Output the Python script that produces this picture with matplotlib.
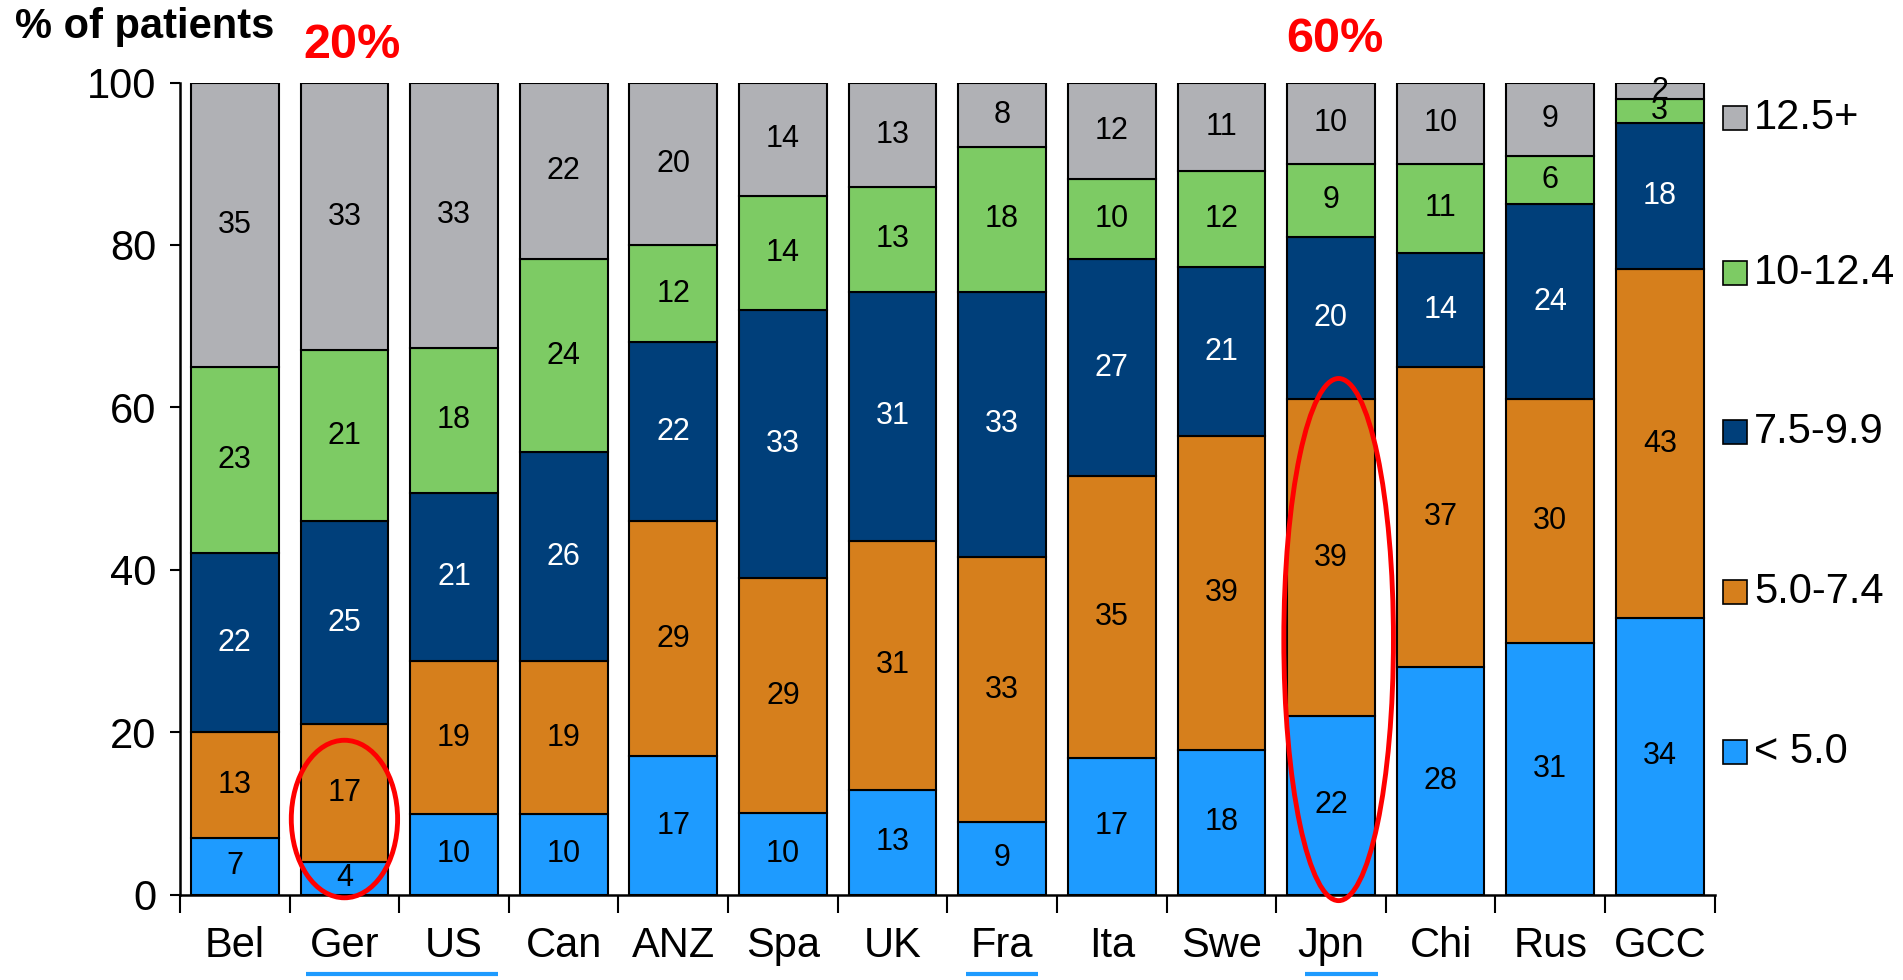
import numpy as np
import matplotlib.pyplot as plt
from matplotlib.patches import Ellipse, Rectangle

plt.rcParams['font.family'] = ['Liberation Sans', 'DejaVu Sans']

# ---- data ----
countries = ["Bel", "Ger", "US", "Can", "ANZ", "Spa", "UK", "Fra",
             "Ita", "Swe", "Jpn", "Chi", "Rus", "GCC"]
lt5 = [7, 4, 10, 10, 17, 10, 13, 9, 17, 18, 22, 28, 31, 34]
r5_74 = [13, 17, 19, 19, 29, 29, 31, 33, 35, 39, 39, 37, 30, 43]
r75_99 = [22, 25, 21, 26, 22, 33, 31, 33, 27, 21, 20, 14, 24, 18]
r10_124 = [23, 21, 18, 24, 12, 14, 13, 18, 10, 12, 9, 11, 6, 3]
r125 = [35, 33, 33, 22, 20, 14, 13, 8, 12, 11, 10, 10, 9, 2]

series_names = ["< 5.0", "5.0-7.4", "7.5-9.9", "10-12.4", "12.5+"]
series_vals = [lt5, r5_74, r75_99, r10_124, r125]
colors = ["#1E9BFF", "#D67F1C", "#003F7A", "#7DCB64", "#B0B1B5"]
text_colors = ["black", "black", "white", "black", "black"]

vals = np.array(series_vals, dtype=float)
heights = vals / vals.sum(axis=0) * 100  # stack to 100%

# ---- figure ----
fig = plt.figure(figsize=(19.03, 9.8), dpi=100)
ax = fig.add_axes([0.0946, 0.0872, 0.8064, 0.8286])

x = np.arange(len(countries))
bottom = np.zeros(len(countries))
for k in range(len(series_names)):
    ax.bar(x, heights[k], 0.8, bottom=bottom, color=colors[k],
           edgecolor="black", linewidth=1.5, zorder=2)
    for i in range(len(countries)):
        ax.text(x[i], bottom[i] + heights[k][i] / 2, str(int(vals[k][i])),
                ha="center", va="center", fontsize=22,
                color=text_colors[k], zorder=3)
    bottom += heights[k]

ax.set_xlim(-0.5, len(countries) - 0.5)
ax.set_ylim(0, 100)
ax.set_yticks([0, 20, 40, 60, 80, 100])
ax.tick_params(axis="y", labelsize=30, length=7, width=1.5, pad=10)
ax.set_xticks(x)
ax.set_xticklabels(countries, fontsize=30)
ax.set_xticks(np.arange(len(countries) + 1) - 0.5, minor=True)
ax.tick_params(axis="x", which="major", length=0, pad=23)
ax.tick_params(axis="x", which="minor", length=13, width=1.5)
for s in ["top", "right"]:
    ax.spines[s].set_visible(False)
for s in ["left", "bottom"]:
    ax.spines[s].set_linewidth(1.8)

# red ellipses
ax.add_patch(Ellipse((1, 9.3), 0.97, 19.4, fill=False, edgecolor="red",
                     linewidth=3.5, clip_on=False, zorder=4))
ax.add_patch(Ellipse((10.07, 31.4), 1.0, 64.3, fill=False, edgecolor="red",
                     linewidth=3.5, clip_on=False, zorder=4))

# blue underlines beneath labels
ul_y = -9.8
for x0, x1 in [(0.65, 2.4), (6.67, 7.33), (9.76, 10.43)]:
    ax.plot([x0, x1], [ul_y, ul_y], color="#1E9BFF", linewidth=3,
            clip_on=False, solid_capstyle="butt")

# legend (manual, top to bottom)
leg_y = [118, 273, 432, 592, 752]
for k in range(len(series_names)):
    yk = 1 - leg_y[4 - k] / 980
    fig.patches.append(Rectangle((1723 / 1903, yk - 12 / 980), 24 / 1903, 24 / 980,
                                 transform=fig.transFigure, facecolor=colors[k],
                                 edgecolor="black", linewidth=1.2))
    fig.text(1754 / 1903, yk, series_names[k], fontsize=30, va="center", ha="left")

fig.text(15 / 1903, 1 - 27 / 980, "% of patients", fontsize=30,
         fontweight="bold", va="center", ha="left")
fig.text(352 / 1903, 1 - 46 / 980, "20%", fontsize=35, fontweight="bold",
         color="red", va="center", ha="center")
fig.text(1335 / 1903, 1 - 40 / 980, "60%", fontsize=35, fontweight="bold",
         color="red", va="center", ha="center")

fig.savefig("out.png", dpi=100)
